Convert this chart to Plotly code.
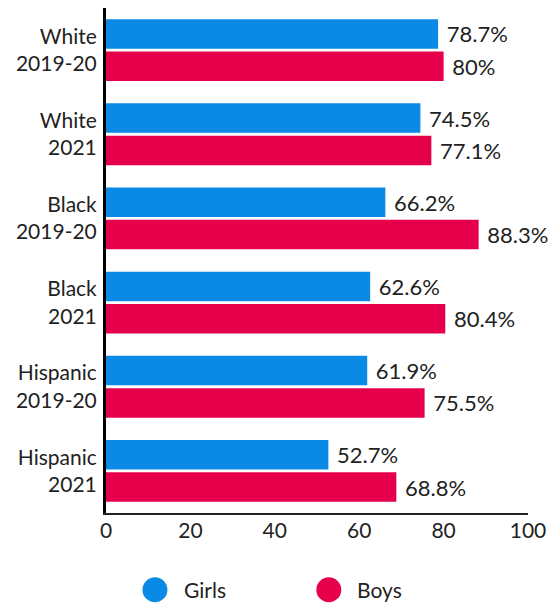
import plotly.graph_objects as go

# groups, top to bottom
groups = ["White<br>2019-20", "White<br>2021", "Black<br>2019-20",
          "Black<br>2021", "Hispanic<br>2019-20", "Hispanic<br>2021"]
girls = [78.7, 74.5, 66.2, 62.6, 61.9, 52.7]
boys = [80, 77.1, 88.3, 80.4, 75.5, 68.8]
series_names = ["Girls", "Boys"]

BLUE = "#0A8AE4"
RED = "#E6004C"
INK = "#222222"
FONT = "Lato"

fig = go.Figure()
for name, vals, color in zip(series_names, [girls, boys], [BLUE, RED]):
    fig.add_trace(go.Bar(
        y=groups, x=vals, orientation="h", name=name,
        marker=dict(color=color, line=dict(width=0)),
        text=vals, texttemplate=" %{x}%", textposition="outside",
        textfont=dict(size=22, color=INK, family=FONT),
        cliponaxis=False, showlegend=False,
    ))

# legend below the plot: big round dots + labels
legend_dot_x = [0.116, 0.528]
for name, color, lx in zip(series_names, [BLUE, RED], legend_dot_x):
    fig.add_shape(type="circle", xref="paper", yref="paper",
                  xsizemode="pixel", ysizemode="pixel",
                  xanchor=lx, yanchor=-0.152,
                  x0=-12.5, x1=12.5, y0=-12.5, y1=12.5,
                  fillcolor=color, line=dict(width=0))
    fig.add_annotation(text=name, xref="paper", yref="paper",
                       x=lx + 0.063, y=-0.152, xanchor="left", yanchor="middle",
                       showarrow=False, font=dict(size=21, color=INK, family=FONT))

fig.update_layout(
    width=558, height=604,
    barmode="group", bargap=0.23, bargroupgap=0.09,
    plot_bgcolor="white", paper_bgcolor="white",
    font=dict(family=FONT, size=21, color=INK),
    margin=dict(l=98, r=38, t=0, b=99),
    showlegend=False,
)
fig.update_xaxes(range=[0, 100], tickvals=[0, 20, 40, 60, 80, 100],
                 showgrid=False, zeroline=False, showline=True,
                 linecolor=INK, linewidth=1.5, ticks="", ticklabelstandoff=-2)
fig.update_yaxes(autorange="reversed", showgrid=False, zeroline=False,
                 showline=True, linecolor="black", linewidth=3, ticks="",
                 ticklabelstandoff=2)

fig.write_html("out.html")
